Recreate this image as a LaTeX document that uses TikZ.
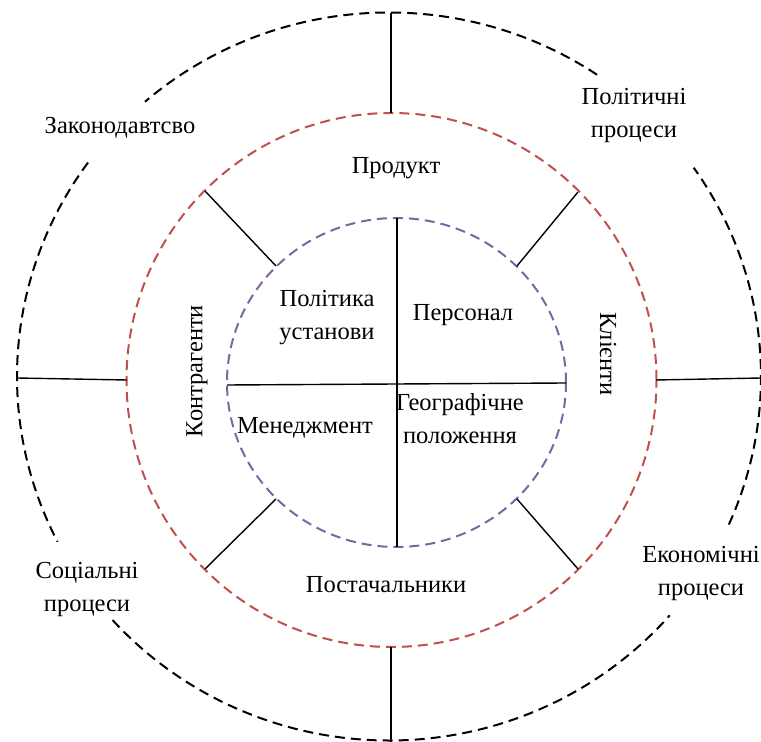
\documentclass[tikz,border=0pt]{standalone}
\usepackage{fontspec}
\setmainfont{Liberation Serif}
\definecolor{ringred}{RGB}{192,80,77}
\definecolor{ringviolet}{RGB}{128,100,162}

\begin{document}
\begin{tikzpicture}[x = 1pt, y = 1pt, font=\fontsize{24.5}{33}\selectfont]
	\tikzstyle{ringStyle} = [line width = 2pt, dash pattern = on 10pt off 6pt]
	\tikzstyle{spokeStyle} = [line width = 1.4pt, black]
	\tikzstyle{labelStyle} = [align = center, inner sep = 0pt]
	\useasboundingbox (0,0) rectangle (761,742);
	% rings
	\draw[ringStyle] (389,365.5) ++(56:372 and 364) arc[start angle = 56, end angle = 131, x radius = 372, y radius = 364];
	\draw[ringStyle] (389,365.5) ++(144:372 and 364) arc[start angle = 144, end angle = 207, x radius = 372, y radius = 364];
	\draw[ringStyle] (389,365.5) ++(222:372 and 364) arc[start angle = 222, end angle = 319, x radius = 372, y radius = 364];
	\draw[ringStyle] (389,365.5) ++(-24:372 and 364) arc[start angle = -24, end angle = 35, x radius = 372, y radius = 364];
	\draw[ringStyle, ringred] (391.5,362) circle[x radius = 265, y radius = 267];
	\draw[ringStyle, ringviolet] (396.5,359.5) circle[x radius = 169.5, y radius = 164.5];
	% end points of the spokes
	\coordinate (oT) at (391,729);
	\coordinate (rT) at (391,629);
	\coordinate (rB) at (391,95);
	\coordinate (oB) at (391,0);
	\coordinate (oL) at (17,364);
	\coordinate (rL) at (127,362);
	\coordinate (rR) at (656,362);
	\coordinate (oR) at (761,364);
	\coordinate (rUL) at (205,551);
	\coordinate (iUL) at (276,476);
	\coordinate (rUR) at (578,550);
	\coordinate (iUR) at (517,476);
	\coordinate (rLL) at (205,173);
	\coordinate (iLL) at (276,243);
	\coordinate (rLR) at (578,173);
	\coordinate (iLR) at (517,243);
	\coordinate (iT) at (397,524);
	\coordinate (iB) at (397,195);
	\coordinate (iL) at (227,357);
	\coordinate (iR) at (566,359);
	\draw[spokeStyle] (oT) -- (rT);
	\draw[spokeStyle] (rB) -- (oB);
	\draw[spokeStyle] (oL) -- (rL);
	\draw[spokeStyle] (rR) -- (oR);
	\draw[spokeStyle] (rUL) -- (iUL);
	\draw[spokeStyle] (rUR) -- (iUR);
	\draw[spokeStyle] (rLL) -- (iLL);
	\draw[spokeStyle] (rLR) -- (iLR);
	\draw[spokeStyle] (iT) -- (iB);
	\draw[spokeStyle] (iL) -- (iR);
	% outer ring
	\node[labelStyle] (law) at (120,614) {Законодавтсво};
	\node[labelStyle] (polit) at (634,626) {Політичні\\процеси};
	\node[labelStyle] (social) at (87,153) {Соціальні\\процеси};
	\node[labelStyle] (econ) at (701,169) {Економічні\\процеси};
	% middle ring
	\node[labelStyle] (product) at (396,574) {Продукт};
	\node[labelStyle] (suppl) at (386,157) {Постачальники};
	\node[labelStyle, rotate = 90] (partners) at (197,371) {Контрагенти};
	\node[labelStyle, rotate = -90] (clients) at (608,388) {Клієнти};
	% inner ring
	\node[labelStyle] (policy) at (327,424) {Політика\\установи};
	\node[labelStyle] (staff) at (463,427) {Персонал};
	\node[labelStyle] (manag) at (305,314) {Менеджмент};
	\node[labelStyle] (geo) at (460,323) {Географічне\\положення};
\end{tikzpicture}
\end{document}
